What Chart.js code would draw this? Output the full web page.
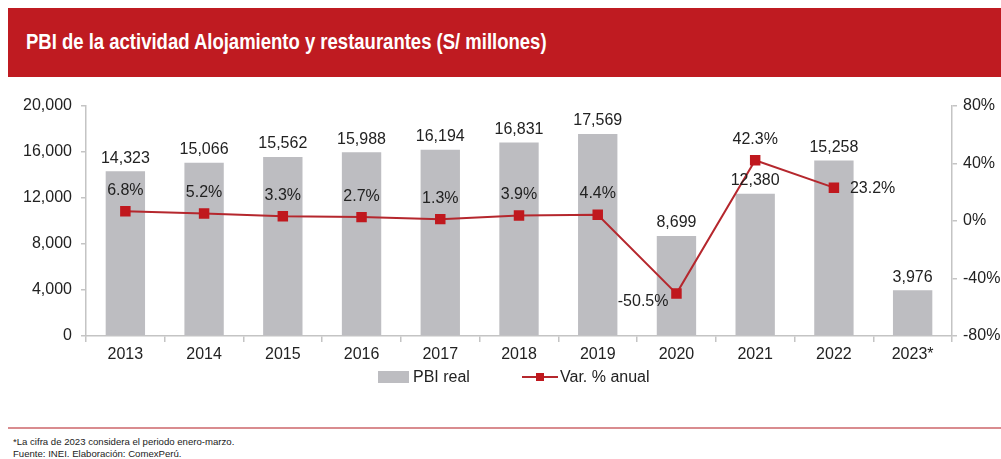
<!DOCTYPE html>
<html>
<head>
<meta charset="utf-8">
<script src="https://cdn.jsdelivr.net/npm/chart.js@4.4.0/dist/chart.umd.min.js"></script>
<style>
  body{margin:0;background:#fff;font-family:"Liberation Sans",Arial,sans-serif;width:1001px;height:459px;overflow:hidden;position:relative}
  .title{position:absolute;left:8px;top:8px;right:0;height:69px;background:#bf1b21}
  .title span{position:absolute;left:18px;top:34px;color:#fff;font-weight:bold;font-size:18.5px;line-height:22px;margin-top:-11px;transform:scaleY(1.15);transform-origin:left center;white-space:nowrap}
  .wrap{position:absolute;left:0;top:84px;width:1001px;height:285px}
  .legend{position:absolute;top:367px;left:0;width:1001px;font-size:16px;color:#222}
  .legend span{position:absolute;top:0;line-height:20px}
  .rule{position:absolute;left:8px;right:0;top:427px;height:2px;background:#d98c8f}
  .note{position:absolute;left:13px;top:436px;font-size:9.6px;line-height:12px;color:#222}
</style>
</head>
<body>
<div class="title"><span>PBI de la actividad Alojamiento y restaurantes (S/ millones)</span></div>
<div class="wrap"><canvas id="chart"></canvas></div>
<div class="legend">
  <span style="left:378px;top:4px;width:31px;height:12px;background:#bdbdc1"></span>
  <span style="left:413px">PBI real</span>
  <span style="left:522px;top:9px;width:36px;height:2px;background:#b5272d"></span>
  <span style="left:536px;top:6px;width:8px;height:8px;background:#c0181e"></span>
  <span style="left:560px">Var. % anual</span>
</div>
<div class="rule"></div>
<div class="note">*La cifra de 2023 considera el periodo enero-marzo.<br>Fuente: INEI. Elaboración: ComexPerú.</div>
<script>
// data
const years = ["2013","2014","2015","2016","2017","2018","2019","2020","2021","2022","2023*"];
const pbiReal = [14323,15066,15562,15988,16194,16831,17569,8699,12380,15258,3976];
const varAnual = [6.8,5.2,3.3,2.7,1.3,3.9,4.4,-50.5,42.3,23.2,null];

const axisColor = '#c4c4c4';
const fontFam = '"Liberation Sans", Arial, sans-serif';

// where each % label goes relative to its marker
const pctPos = ['top','top','top','top','top','top','top','leftBelow','top','right'];

const labelsPlugin = {
  id:'valueLabels',
  afterDatasetsDraw(chart){
    const ctx = chart.ctx;
    ctx.save();
    ctx.font = '16px ' + fontFam;
    ctx.fillStyle = '#222';
    ctx.textBaseline = 'middle';
    // bar values
    chart.getDatasetMeta(0).data.forEach((el,i)=>{
      ctx.textAlign = 'center';
      ctx.fillText(pbiReal[i].toLocaleString('en-US'), el.x, el.y - 13);
    });
    // % values
    chart.getDatasetMeta(1).data.forEach((el,i)=>{
      const v = varAnual[i];
      if(v===null || v===undefined) return;
      const txt = v.toFixed(1) + '%';
      const p = pctPos[i];
      if(p==='right'){ ctx.textAlign='left'; ctx.fillText(txt, el.x + 16, el.y + 1); }
      else if(p==='leftBelow'){ ctx.textAlign='right'; ctx.fillText(txt, el.x - 8, el.y + 8); }
      else { ctx.textAlign='center'; ctx.fillText(txt, el.x, el.y - 21); }
    });
    ctx.restore();
  }
};

new Chart(document.getElementById('chart'), {
  data:{
    labels:years,
    datasets:[
      {type:'bar',label:'PBI real',data:pbiReal,backgroundColor:'#bdbdc1',yAxisID:'y',
       categoryPercentage:1,barPercentage:0.5,order:2},
      {type:'line',label:'Var. % anual',data:varAnual,yAxisID:'y1',borderColor:'#b5272d',borderWidth:2,
       pointStyle:'rect',pointRadius:6,pointBackgroundColor:'#c0181e',pointBorderColor:'#c0181e',
       tension:0,spanGaps:false,order:1}
    ]
  },
  options:{
    responsive:true,maintainAspectRatio:false,animation:false,
    layout:{padding:{top:22,left:0,right:0,bottom:0}},
    plugins:{legend:{display:false},tooltip:{enabled:false}},
    scales:{
      x:{
        afterFit(s){ s.height = 33; },
        grid:{display:true,drawOnChartArea:false,drawTicks:true,tickLength:6,color:axisColor,lineWidth:1.5},
        border:{color:axisColor,width:1.5},
        ticks:{color:'#222',font:{family:fontFam,size:16},padding:3}
      },
      y:{
        position:'left',min:0,max:20000,
        afterFit(s){ s.width = 86; },
        grid:{display:true,drawOnChartArea:false,tickLength:5,color:axisColor,lineWidth:1.5},
        border:{color:axisColor,width:1.5},
        ticks:{stepSize:4000,color:'#222',font:{family:fontFam,size:16},padding:9,
          callback:v=>v.toLocaleString('en-US')}
      },
      y1:{
        position:'right',min:-80,max:80,
        afterFit(s){ s.width = 49; },
        grid:{display:true,drawOnChartArea:false,tickLength:5,color:axisColor,lineWidth:1.5},
        border:{color:axisColor,width:1.5},
        ticks:{stepSize:40,color:'#222',font:{family:fontFam,size:16},padding:6,
          callback:v=>v+'%'}
      }
    }
  },
  plugins:[labelsPlugin]
});
</script>
</body>
</html>
